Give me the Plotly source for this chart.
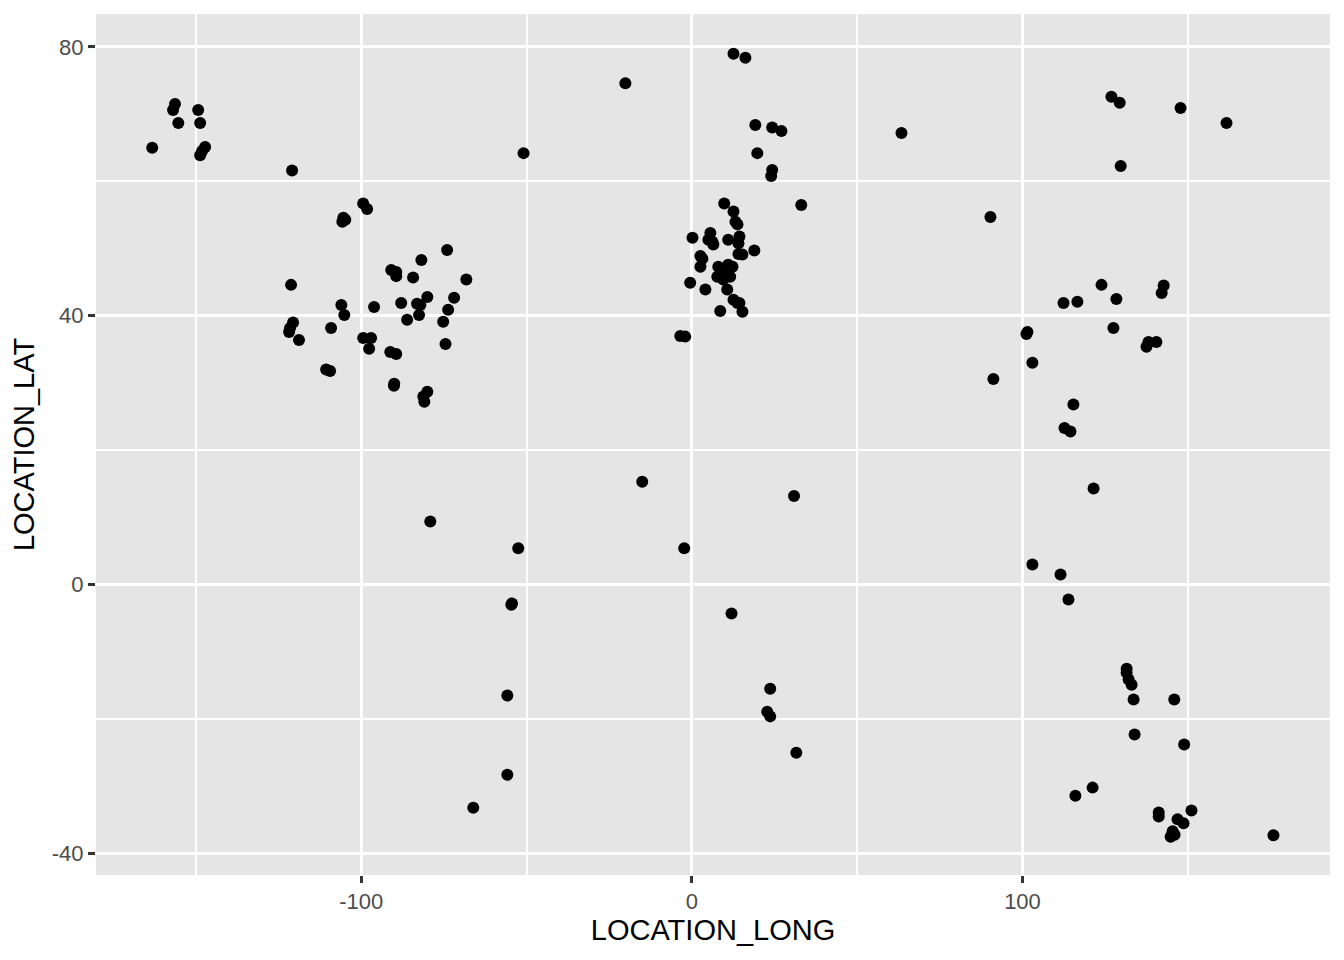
import plotly.graph_objects as go

location_long = [
    -156.3, -156.9, -149.3, -155.3, -148.7, -163.2, -147.2, -148.1, -148.7, -120.9,
    -99.4, -98.2, -105.4, -105.7, -104.8, -74.0, -81.8, -90.9, -89.4, -89.4,
    -84.3, -68.2, -121.2, -80.0, -71.9, -87.9, -83.1, -82.1, -106.0, -105.1,
    -96.1, -73.7, -82.5, -86.1, -75.2, -120.6, -121.5, -121.8, -109.1, -118.8,
    -99.4, -97.0, -97.6, -74.5, -91.2, -89.4, -110.6, -109.4, -90.0, -90.1,
    -80.0, -81.2, -80.9,
    9.8, 12.6, 13.2, 13.8, 14.4, 14.1, 5.6, 5.0, 6.5, 6.2,
    0.2, 11.0, 2.6, 3.2, 2.6, 14.1, 15.3, 18.9, 8.0, 11.0,
    12.3, 10.1, 7.7, 9.5, 11.6, 10.7, -0.5, 4.1, 10.7, 12.6,
    13.8, 14.4, 8.6, 15.3,
    12.6, 16.2, -20.1, 19.2, 24.3, 27.1, 19.8, 24.3, 24.0, 33.1,
    -50.9, 63.4, -3.5, -2.0,
    126.9, 129.4, 147.8, 161.7, 129.7, 90.3, 123.9, 142.7, 142.1, 112.4,
    116.6, 128.4, 101.5, 101.2, 127.5, 140.5, 138.1, 137.5, 103.0, 91.2,
    115.4, 112.7, 114.5, 121.5, 103.0, 111.5, 113.9,
    -15.0, 30.9, -79.1, -52.5, -2.3, -54.6, -54.4, 12.0, -55.8, 23.7,
    22.8, 23.7, 31.6, -55.8, -66.1,
    131.5, 131.5, 132.1, 133.0, 133.6, 145.9, 133.9, 148.9, 121.2, 116.0,
    141.2, 141.2, 151.1, 146.9, 148.7, 145.4, 144.8, 146.0, 175.9,
]

location_lat = [
    71.5, 70.6, 70.6, 68.7, 68.7, 65.0, 65.1, 64.5, 63.9, 61.6,
    56.7, 55.9, 54.6, 54.0, 54.3, 49.8, 48.3, 46.8, 46.5, 45.9,
    45.7, 45.4, 44.6, 42.8, 42.7, 41.9, 41.8, 41.6, 41.6, 40.1,
    41.3, 40.9, 40.1, 39.4, 39.1, 39.0, 38.2, 37.6, 38.2, 36.4,
    36.7, 36.7, 35.1, 35.8, 34.6, 34.3, 32.0, 31.8, 29.9, 29.6,
    28.7, 28.0, 27.2,
    56.7, 55.5, 54.0, 53.6, 51.8, 50.8, 52.3, 51.3, 50.6, 51.0,
    51.6, 51.3, 48.9, 48.5, 47.3, 49.2, 49.1, 49.7, 47.3, 47.6,
    47.3, 46.4, 45.8, 45.4, 45.8, 46.8, 44.9, 43.9, 43.9, 42.4,
    41.9, 41.9, 40.7, 40.6,
    79.0, 78.4, 74.6, 68.4, 68.0, 67.5, 64.2, 61.7, 60.8, 56.5,
    64.2, 67.2, 37.0, 36.9,
    72.6, 71.7, 70.9, 68.7, 62.3, 54.7, 44.6, 44.5, 43.4, 41.9,
    42.1, 42.5, 37.6, 37.3, 38.2, 36.1, 36.1, 35.4, 33.0, 30.6,
    26.8, 23.3, 22.8, 14.3, 3.0, 1.5, -2.2,
    15.3, 13.2, 9.4, 5.4, 5.4, -3.0, -2.8, -4.3, -16.5, -15.5,
    -18.9, -19.6, -25.0, -28.3, -33.2,
    -12.5, -13.1, -14.1, -14.9, -17.1, -17.1, -22.3, -23.8, -30.2, -31.4,
    -33.9, -34.5, -33.6, -34.9, -35.5, -36.7, -37.5, -37.2, -37.3,
]

x_ticks = [-100, 0, 100]
x_tick_labels = ["-100", "0", "100"]
y_ticks = [-40, 0, 40, 80]
y_tick_labels = ["-40", "0", "40", "80"]

FONT = "Liberation Sans, Arial, sans-serif"

fig = go.Figure()
fig.add_trace(go.Scatter(
    x=location_long, y=location_lat, mode="markers",
    marker=dict(color="black", size=12, line=dict(width=0)),
    showlegend=False,
))

axis_common = dict(
    showgrid=True, gridcolor="white", gridwidth=3,
    zeroline=False, showline=False,
    ticks="outside", ticklen=7, tickwidth=2.7, tickcolor="#333333",
    tickfont=dict(family=FONT, size=22, color="#4D4D4D"),
    title_font=dict(family=FONT, size=29, color="black"),
)

fig.update_xaxes(
    **axis_common, range=[-180.2, 193.0],
    tickmode="array", tickvals=x_ticks, ticktext=x_tick_labels,
    title_text="LOCATION_LONG", title_standoff=5,
    minor=dict(showgrid=True, gridcolor="white", gridwidth=1.5,
               tickvals=[-150, -50, 50, 150], ticks=""),
)
fig.update_yaxes(
    **axis_common, range=[-43.2, 84.9],
    tickmode="array", tickvals=y_ticks, ticktext=y_tick_labels,
    title_text="LOCATION_LAT", title_standoff=14,
    minor=dict(showgrid=True, gridcolor="white", gridwidth=1.5,
               tickvals=[-20, 20, 60], ticks=""),
)

fig.update_layout(
    width=1344, height=960,
    margin=dict(l=88, r=22, t=6, b=93),
    paper_bgcolor="white", plot_bgcolor="#E5E5E5",
    font=dict(family=FONT),
)

fig.write_html("out.html")
